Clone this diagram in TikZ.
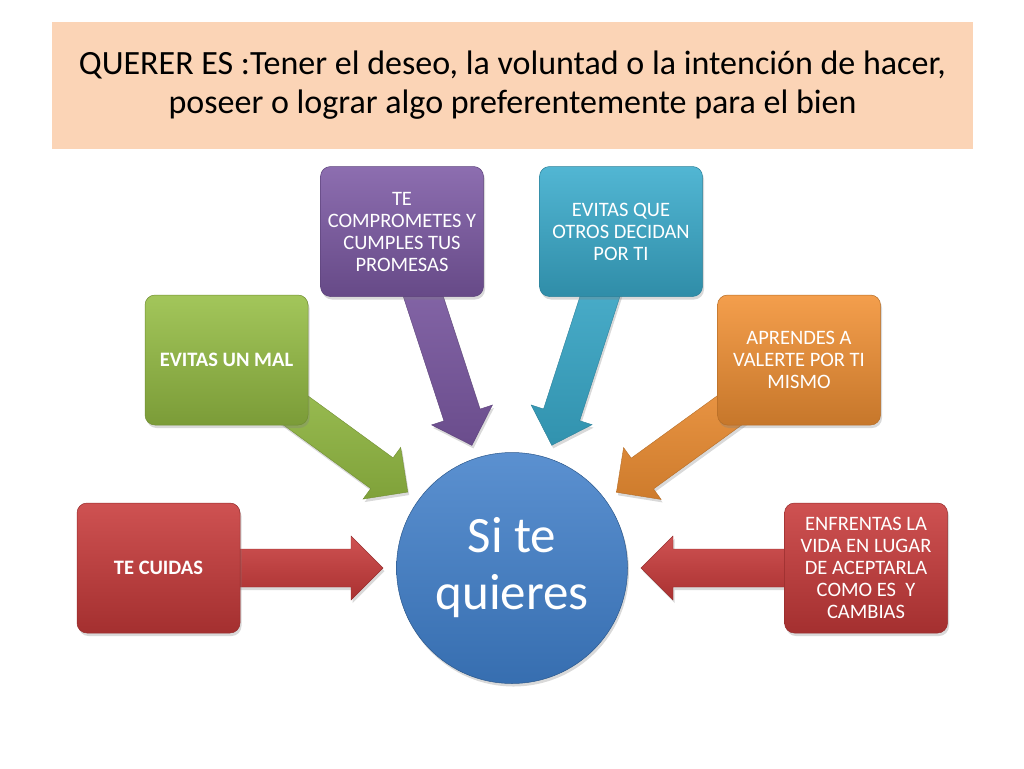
\documentclass[tikz,border=0pt]{standalone}
\usepackage{fontspec}
\setmainfont{Carlito}
\usetikzlibrary{calc,shadows}
\definecolor{titlebg}{RGB}{251,212,182}
\definecolor{redbox}{RGB}{200,58,58}
\definecolor{greenbox}{RGB}{150,190,68}
\definecolor{purplebox}{RGB}{125,90,165}
\definecolor{cyanbox}{RGB}{58,172,205}
\definecolor{orangebox}{RGB}{242,145,52}
\definecolor{bluecirc}{RGB}{62,125,200}
\pgfdeclarelayer{back}
\pgfsetlayers{back,main}
\tikzset{
  softshadow/.style={drop shadow={opacity=0.3,shadow xshift=1.5pt,shadow yshift=-3pt}},
  card/.style={rounded corners=10pt,minimum width=163pt,minimum height=130pt,
    inner sep=3pt,align=center,text=white,font=\fontsize{20.5}{22}\selectfont,
    draw=#1!75!black,line width=0.5pt,top color=#1!88!white,bottom color=#1!82!black,softshadow},
  bigarrow/.style={top color=#1!88!white,bottom color=#1!85!black,draw=#1!75!black,line width=0.4pt,softshadow}
}
\begin{document}
\begin{tikzpicture}[x=1pt,y=1pt]
  \useasboundingbox (0,0) rectangle (1024,-768);
  % heading
  \node[fill=titlebg,minimum width=921pt,minimum height=127pt,align=center,
    font=\fontsize{34}{39}\selectfont] (head) at (512.5,-85.5)
    {QUERER ES :Tener el deseo, la voluntad o la intención de hacer,\\
     poseer o lograr algo preferentemente para el bien};
  % centre
  \node[circle,minimum size=231pt,inner sep=0pt,align=center,text=white,
    font=\fontsize{51}{57}\selectfont,top color=bluecirc!85!white,bottom color=bluecirc!88!black,
    draw=bluecirc!70!black,line width=0.5pt,softshadow] (si) at (512,-568) {Si te\\quieres};
  % boxes
  \node[card=redbox,font=\fontsize{20.5}{22}\selectfont\bfseries] (cuidas) at (158.5,-568) {TE CUIDAS};
  \node[card=greenbox,font=\fontsize{20.5}{22}\selectfont\bfseries] (mal) at (226.5,-360) {EVITAS UN MAL};
  \node[card=purplebox] (comp) at (402,-231.5) {TE\\COMPROMETES Y\\CUMPLES TUS\\PROMESAS};
  \node[card=cyanbox] (otros) at (621,-231.5) {EVITAS QUE\\OTROS DECIDAN\\POR TI};
  \node[card=orangebox] (valer) at (799,-360) {APRENDES A\\VALERTE POR TI\\MISMO};
  \node[card=redbox] (enfr) at (866,-568) {ENFRENTAS LA\\VIDA EN LUGAR\\DE ACEPTARLA\\COMO ES~ Y\\CAMBIAS};
  % block arrows, behind the boxes
  \begin{pgfonlayer}{back}
  \foreach \src/\col in {cuidas/redbox,mal/greenbox,comp/purplebox,otros/cyanbox,valer/orangebox,enfr/redbox}{
    \coordinate (tip) at ($(si.center)!129pt!(\src.center)$);
    \coordinate (base) at ($(tip)!32pt!(\src.center)$);
    \path[bigarrow=\col] ($(\src.center)!19pt!90:(tip)$) -- ($(base)!19pt!90:(tip)$)
      -- ($(base)!32pt!90:(tip)$) -- (tip) -- ($(base)!32pt!-90:(tip)$)
      -- ($(base)!19pt!-90:(tip)$) -- ($(\src.center)!19pt!-90:(tip)$) -- cycle;
  }
  \end{pgfonlayer}
\end{tikzpicture}
\end{document}
